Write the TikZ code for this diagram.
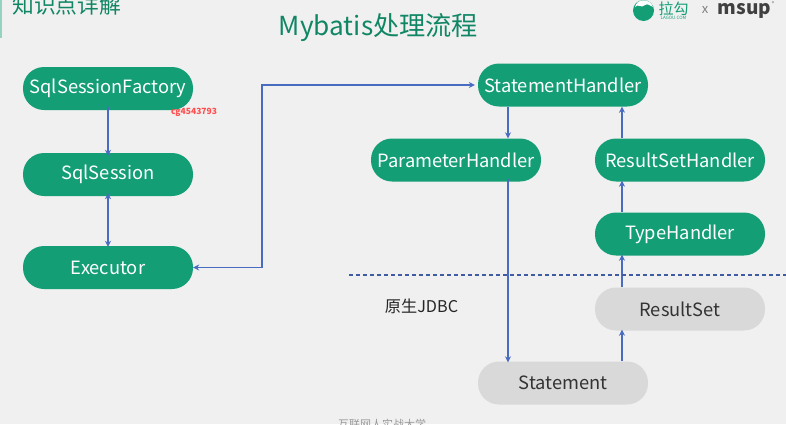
\documentclass[tikz,border=0pt]{standalone}
\usepackage{fontspec}
\setmainfont{Noto Sans CJK SC}
\usetikzlibrary{arrows.meta}
\definecolor{bg}{HTML}{F0F0F0}
\definecolor{grn}{HTML}{149E76}
\definecolor{gry}{HTML}{D9D9D9}
\definecolor{lnk}{HTML}{4A6CC0}
\tikzset{
  pill/.style={rounded corners=21pt,minimum width=170pt,minimum height=43pt,inner sep=0pt,font=\fontsize{18.3}{20}\selectfont},
  gpill/.style={pill,fill=grn,text=white},
  apill/.style={pill,fill=gry,text=black!80},
  conn/.style={draw=lnk,line width=1.4pt,-{Stealth[length=6pt,width=6pt]}},
  connb/.style={draw=lnk,line width=1.4pt,{Stealth[length=6pt,width=6pt]}-{Stealth[length=6pt,width=6pt]}},
  lbl/.style={text depth=0pt,yshift=0pt}
}
\begin{document}
\begin{tikzpicture}[x=1pt,y=-1pt]
\useasboundingbox (0,0) rectangle (786,424);
\clip (0,0) rectangle (786,424);
\fill[bg] (0,0) rectangle (786,424);
% header
\fill[grn!45] (0,0) rectangle (1.5,38);
\node[anchor=west,text=grn!85!black,font=\fontsize{21.8}{24}\selectfont,inner sep=0pt] (head) at (12,5) {知识点详解};
\node[text=grn!85!black,font=\fontsize{26.2}{30}\selectfont,inner sep=0pt] (title) at (378.5,28) {Mybatis处理流程};
% logo
\fill[grn] (643.5,10.5) circle (10.5);
\fill[white] (635,7) .. controls (638,3) and (641,9) .. (645,5) .. controls (648,3) and (650,6) .. (653,7) .. controls (650,-2) and (637,-2) .. (635,7) -- cycle;
\node[text=grn,font=\fontsize{15}{16}\selectfont,inner sep=0pt] (lg) at (673.5,9) {拉勾};
\node[text=grn,font=\fontsize{4.5}{5}\selectfont,inner sep=0pt] (lgs) at (673.5,18) {LAGOU.COM};
\node[text=black!50,font=\fontsize{13}{14}\selectfont,inner sep=0pt] (xx) at (705,10) {x};
\node[text=black!75,font=\fontsize{19}{20}\bfseries\selectfont,inner sep=0pt] (ms) at (744.5,11) {msup};
\node[text=black!60,font=\fontsize{5}{6}\selectfont,inner sep=0pt] (rg) at (773,3.5) {®};
% nodes
\node[gpill] (ssf) at (108,88.5) {\raisebox{-1.5pt}{SqlSessionFactory}};
\node[gpill] (ss) at (108,174.5) {\raisebox{-1.5pt}{SqlSession}};
\node[gpill] (ex) at (108,267.5) {\raisebox{-1.5pt}{Executor}};
\node[gpill] (sh) at (563,85) {\raisebox{-1.5pt}{StatementHandler}};
\node[gpill] (ph) at (456,160) {\raisebox{-1.5pt}{ParameterHandler}};
\node[gpill] (rsh) at (680,160) {\raisebox{-1.5pt}{ResultSetHandler}};
\node[gpill] (th) at (680,234) {\raisebox{-1.5pt}{TypeHandler}};
\node[apill] (rs) at (680,309) {\raisebox{-1.5pt}{ResultSet}};
\node[apill] (st) at (563,383) {\raisebox{-1.5pt}{Statement}};
\coordinate (xa) at (508,0);
\coordinate (xb) at (622,0);
\coordinate (corner) at (262,267.5);
% connectors
\path[conn] ([yshift=3pt]ssf.south) -- ([yshift=-3pt]ss.north);
\path[connb] ([yshift=3pt]ss.south) -- ([yshift=-1pt]ex.north);
\path[connb] (ex.east) -- (corner) |- ([xshift=-3pt]sh.west);
\path[conn] (sh.south -| xa) -- (ph.north -| xa);
\path[conn] ([yshift=3pt]ph.south -| xa) -- ([yshift=-1pt]st.north -| xa);
\path[conn] (st.north -| xb) -- ([yshift=1pt]rs.south -| xb);
\path[conn] (rs.north -| xb) -- ([yshift=1pt]th.south -| xb);
\path[conn] (th.north -| xb) -- ([yshift=1pt]rsh.south -| xb);
\path[conn] (rsh.north -| xb) -- (sh.south -| xb);
% divider
\coordinate (da) at (349,275);
\coordinate (db) at (786,275);
\draw[lnk!85!black,line width=1.3pt,dash pattern=on 3.5pt off 3.5pt] (da) -- (db);
\node[text=black!85,font=\fontsize{16.2}{18}\selectfont,inner sep=0pt] (jdbc) at (421.5,306.5) {原生JDBC};
\node[text=red!70,font=\fontsize{8.5}{10}\bfseries\selectfont,inner sep=0pt] (wm) at (194,112) {cg4543793};
\node[text=black!40,font=\fontsize{11}{12}\selectfont,inner sep=0pt] (foot) at (382,424) {互联网人实战大学};
\end{tikzpicture}
\end{document}
